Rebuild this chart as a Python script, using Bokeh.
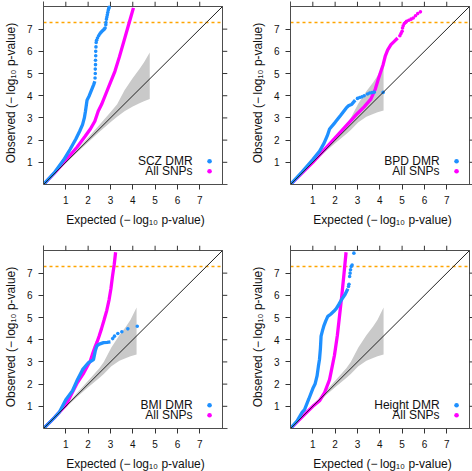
import math
from bokeh.plotting import figure
from bokeh.models import FixedTicker, Range1d
from bokeh.layouts import gridplot
from bokeh.core.properties import value
from bokeh.embed import file_html
from bokeh.resources import INLINE

# ---------------- data ----------------
TICKS = [1, 2, 3, 4, 5, 6, 7]
GWS_P = 5e-8  # genome-wide significance threshold

# Panel 1: SCZ
scz_dmr_x = [0, 0.5, 0.9, 1.2, 1.45, 1.62, 1.75, 1.83, 1.88, 1.95, 2.05, 2.15, 2.25, 2.3]
scz_dmr_y = [0, 0.55, 1.1, 1.6, 2.05, 2.4, 2.7, 3.0, 3.3, 3.8, 4.0, 4.25, 4.5, 4.65]
scz_dmr_tail_x = [2.31, 2.32, 2.32, 2.33, 2.33, 2.34, 2.34, 2.35, 2.36, 2.38, 2.42, 2.47, 2.52, 2.57,
                  2.62, 2.67, 2.72, 2.76, 2.79, 2.8, 2.82, 2.84, 2.86, 2.88, 2.9, 2.92, 2.94]
scz_dmr_tail_y = [4.8, 5.0, 5.2, 5.4, 5.6, 5.8, 6.0, 6.2, 6.4, 6.5, 6.6, 6.7, 6.78, 6.85,
                  6.9, 6.95, 7.0, 7.05, 7.2, 7.3, 7.45, 7.55, 7.65, 7.75, 7.85, 7.92, 7.98]
scz_all_x = [0, 0.5, 1.0, 1.5, 1.85, 2.1, 2.3, 2.45, 2.6, 2.8, 3.0, 3.2, 3.4, 3.6, 3.8, 3.9, 4.03]
scz_all_y = [0, 0.52, 1.1, 1.68, 2.15, 2.5, 2.85, 3.3, 3.6, 4.1, 4.6, 5.1, 5.75, 6.45, 7.15, 7.5, 7.96]

# Panel 2: BPD
bpd_dmr_x = [0, 0.5, 1.0, 1.3, 1.5, 1.65, 1.75, 2.0, 2.25, 2.5, 2.6, 2.75, 2.9]
bpd_dmr_y = [0, 0.55, 1.12, 1.5, 1.85, 2.2, 2.5, 2.8, 3.12, 3.45, 3.55, 3.62, 3.8]
bpd_dmr_tail_x = [3.0, 3.1, 3.2, 3.3, 3.45, 3.55, 3.65, 3.75, 4.15]
bpd_dmr_tail_y = [3.88, 3.92, 3.95, 4.0, 4.08, 4.12, 4.14, 4.16, 4.15]
bpd_all_x = [0, 1.0, 1.5, 2.0, 2.5, 3.0, 3.3, 3.6, 3.8, 3.95, 4.05, 4.15, 4.25, 4.35, 4.5, 4.65, 4.8]
bpd_all_y = [0, 1.0, 1.55, 2.1, 2.65, 3.2, 3.5, 3.85, 4.3, 4.8, 5.1, 5.4, 5.8, 6.05, 6.3, 6.45, 6.6]
bpd_all_tail_x = [4.9, 4.95, 5.0, 5.02, 5.05, 5.1, 5.15, 5.2, 5.3, 5.4, 5.5, 5.6, 5.7, 5.82]
bpd_all_tail_y = [6.7, 6.8, 6.9, 7.05, 7.15, 7.25, 7.3, 7.35, 7.4, 7.45, 7.5, 7.6, 7.7, 7.78]

# Panel 3: BMI
bmi_dmr_x = [0, 0.5, 0.72, 1.0, 1.3, 1.52, 1.75, 2.0, 2.24, 2.32, 2.39, 2.5, 2.69, 2.85, 3.0]
bmi_dmr_y = [0, 0.5, 0.75, 1.3, 1.7, 2.2, 2.65, 2.95, 3.1, 3.5, 3.72, 3.8, 3.87, 3.88, 3.9]
bmi_dmr_tail_x = [3.1, 3.18, 3.33, 3.51, 3.78, 4.2]
bmi_dmr_tail_y = [4.05, 4.16, 4.28, 4.36, 4.49, 4.61]
bmi_all_x = [0, 0.5, 1.0, 1.52, 1.8, 1.97, 2.1, 2.19, 2.3, 2.4, 2.49, 2.6, 2.72, 2.83, 2.94, 3.02, 3.09, 3.17, 3.23]
bmi_all_y = [0, 0.5, 1.05, 2.07, 2.5, 2.82, 3.05, 3.34, 3.65, 3.9, 4.16, 4.5, 4.91, 5.3, 5.81, 6.3, 6.85, 7.4, 7.94]

# Panel 4: Height
ht_dmr_x = [0, 0.3, 0.52, 0.63, 0.82, 1.0, 1.1, 1.19, 1.25, 1.3, 1.34, 1.37, 1.43, 1.49, 1.58,
            1.67, 1.8, 1.94, 2.05, 2.16, 2.27, 2.35, 2.45, 2.57]
ht_dmr_y = [0, 0.35, 0.73, 0.85, 1.33, 1.8, 2.0, 2.37, 2.8, 3.12, 3.6, 4.16, 4.4, 4.61, 4.85,
            5.05, 5.15, 5.28, 5.4, 5.58, 5.78, 5.9, 6.05, 6.3]
ht_dmr_tail_x = [2.6, 2.62, 2.65, 2.67, 2.69, 2.72, 2.76, 2.84]
ht_dmr_tail_y = [6.4, 6.5, 6.85, 7.0, 7.15, 7.3, 7.37, 7.9]
ht_all_x = [0, 0.5, 1.0, 1.3, 1.52, 1.75, 1.97, 2.1, 2.2, 2.3, 2.4, 2.49]
ht_all_y = [0, 0.5, 1.0, 1.25, 1.6, 2.2, 3.3, 4.2, 5.1, 6.0, 7.0, 7.94]

# Confidence bands (expected order statistics)
band_big_x = [0, 1.5, 2.0, 2.5, 3.0, 3.3, 3.63, 4.0, 4.3, 4.5, 4.76]
band_big_lo = [0, 1.44, 1.9, 2.36, 2.8, 3.05, 3.3, 3.52, 3.66, 3.75, 3.85]
band_big_hi = [0, 1.58, 2.12, 2.68, 3.25, 3.62, 4.25, 4.8, 5.2, 5.5, 5.95]
band_small_x = [0, 1.5, 2.0, 2.5, 2.7, 3.04, 3.4, 3.7, 3.9, 4.17]
band_small_lo = [0, 1.42, 1.86, 2.28, 2.45, 2.8, 3.05, 3.18, 3.25, 3.33]
band_small_hi = [0, 1.6, 2.15, 2.72, 3.0, 3.65, 4.2, 4.6, 4.9, 5.45]

LABELS = ["SCZ DMR", "BPD DMR", "BMI DMR", "Height DMR"]

# ---------------- style ----------------
BLUE = "#1E90FF"
MAGENTA = "#FF00FF"
ORANGE = "#FFA500"
BAND = "#C9C9C9"
FRAME = "#4d4d4d"
TICKCOL = "#333333"
FONT = "Liberation Sans"
AX_MAX = 8.02            # data box spans 0..AX_MAX on both axes
BOX_W, BOX_H = 179, 178  # pixel size of the data box
TICK_LEN = 5

XLAB = "Expected (\u2212\u2009log\u2081\u2080 p-value)"
YLAB = "Observed (\u2212\u2009log\u2081\u2080 p-value)"


def style_axis(ax):
    ax.ticker = FixedTicker(ticks=TICKS)
    ax.minor_tick_line_color = None
    ax.major_tick_in = 0
    ax.major_tick_out = TICK_LEN
    ax.major_tick_line_color = TICKCOL
    ax.axis_line_color = FRAME
    ax.major_label_text_font = FONT
    ax.major_label_text_font_size = "10px"
    ax.major_label_text_color = "#111111"
    ax.major_label_standoff = 6
    ax.axis_label_text_font = FONT
    ax.axis_label_text_font_size = "12px"
    ax.axis_label_text_font_style = "normal"
    ax.axis_label_text_color = "#111111"
    ax.axis_label_standoff = 6


def make_panel(label, dmr_x, dmr_y, dmr_tx, dmr_ty, all_x, all_y, all_tx, all_ty,
               bx, blo, bhi, left, right, top, bottom):
    # the frame is enlarged by the tick length on top and right so that the
    # outside tick marks of those sides can be drawn inside it
    dx = TICK_LEN * AX_MAX / BOX_W
    dy = TICK_LEN * AX_MAX / BOX_H
    p = figure(frame_width=BOX_W + TICK_LEN, frame_height=BOX_H + TICK_LEN,
               output_backend="svg", toolbar_location=None,
               x_range=Range1d(0, AX_MAX + dx), y_range=Range1d(0, AX_MAX + dy),
               min_border_left=left, min_border_right=right,
               min_border_top=top, min_border_bottom=bottom,
               x_axis_label=XLAB, y_axis_label=YLAB)
    p.grid.visible = False
    p.outline_line_color = None
    p.background_fill_color = "white"
    p.border_fill_color = "white"
    style_axis(p.xaxis[0])
    style_axis(p.yaxis[0])
    p.yaxis[0].major_label_orientation = 0

    n = len(TICKS)
    # top and right edges of the box + their outside ticks
    p.segment(x0=[0, AX_MAX], y0=[AX_MAX, 0], x1=[AX_MAX, AX_MAX], y1=[AX_MAX, AX_MAX],
              line_color=FRAME, line_width=1)
    p.segment(x0=TICKS, y0=[AX_MAX] * n, x1=TICKS, y1=[AX_MAX + dy] * n,
              line_color=TICKCOL, line_width=1)
    p.segment(x0=[AX_MAX] * n, y0=TICKS, x1=[AX_MAX + dx] * n, y1=TICKS,
              line_color=TICKCOL, line_width=1)

    p.varea(x=bx, y1=blo, y2=bhi, fill_color=BAND, fill_alpha=1.0)
    thr = -math.log10(GWS_P)
    p.segment(x0=[0], y0=[thr], x1=[AX_MAX], y1=[thr],
              line_color=ORANGE, line_dash="3 3", line_width=1.5)
    p.line(all_x, all_y, line_color=MAGENTA, line_width=3.3)
    if all_tx:
        p.scatter(all_tx, all_ty, size=3.6, color=MAGENTA, line_color=None)
    p.line(dmr_x, dmr_y, line_color=BLUE, line_width=3.3)
    if dmr_tx:
        p.scatter(dmr_tx, dmr_ty, size=3.6, color=BLUE, line_color=None)
    p.line([0, AX_MAX], [0, AX_MAX], line_color="#222222", line_width=1)

    # legend (text followed by a dot, as in the reference)
    p.text(x=[6.68, 6.68], y=[1.05, 0.6], text=[label, "All SNPs"],
           text_align="right", text_baseline="middle",
           text_font=value(FONT), text_font_size="12px", text_color="#111111")
    p.scatter(x=[7.44, 7.44], y=[1.05, 0.6], size=4.6, color=[BLUE, MAGENTA], line_color=None)
    return p


p1 = make_panel(LABELS[0], scz_dmr_x, scz_dmr_y, scz_dmr_tail_x, scz_dmr_tail_y,
                scz_all_x, scz_all_y, [], [], band_big_x, band_big_lo, band_big_hi,
                39, 5, 1, 52)
p2 = make_panel(LABELS[1], bpd_dmr_x, bpd_dmr_y, bpd_dmr_tail_x, bpd_dmr_tail_y,
                bpd_all_x, bpd_all_y, bpd_all_tail_x, bpd_all_tail_y,
                band_small_x, band_small_lo, band_small_hi, 58, 0, 1, 52)
p3 = make_panel(LABELS[2], bmi_dmr_x, bmi_dmr_y, bmi_dmr_tail_x, bmi_dmr_tail_y,
                bmi_all_x, bmi_all_y, [], [], band_small_x, band_small_lo, band_small_hi,
                39, 5, 9, 41)
p4 = make_panel(LABELS[3], ht_dmr_x, ht_dmr_y, ht_dmr_tail_x, ht_dmr_tail_y,
                ht_all_x, ht_all_y, [], [], band_small_x, band_small_lo, band_small_hi,
                58, 0, 9, 41)

grid = gridplot([[p1, p2], [p3, p4]], toolbar_location=None)

open("out.html", "w").write(file_html(grid, INLINE))
